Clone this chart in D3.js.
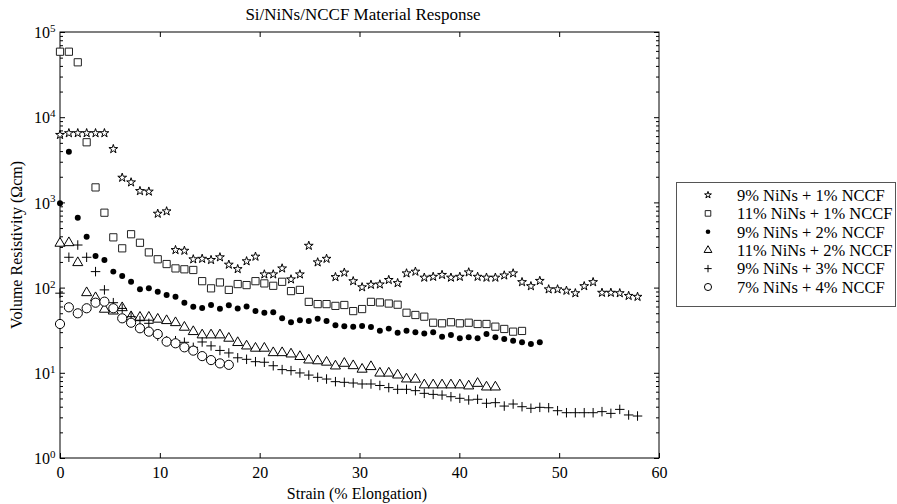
<!DOCTYPE html>
<html>
<head>
<meta charset="utf-8">
<script src="https://cdn.jsdelivr.net/npm/d3@7"></script>
<style>
  html, body { margin: 0; padding: 0; background: #fff; }
  svg { display: block; font-family: "Liberation Serif", "Times New Roman", serif; }
</style>
</head>
<body>
<svg id="chart" width="897" height="504"></svg>
<script>
// Strain sampling points (% elongation) shared by all specimens
const strain = [0, 0.89, 1.78, 2.67, 3.56, 4.45, 5.34, 6.23, 7.12, 8.01, 8.90, 9.79, 10.68, 11.57,
  12.46, 13.35, 14.24, 15.13, 16.02, 16.91, 17.80, 18.69, 19.58, 20.47, 21.36, 22.25, 23.14,
  24.03, 24.92, 25.81, 26.70, 27.59, 28.48, 29.37, 30.26, 31.15, 32.04, 32.93, 33.82, 34.71,
  35.60, 36.49, 37.38, 38.27, 39.16, 40.05, 40.94, 41.83, 42.72, 43.61, 44.50, 45.39, 46.28,
  47.17, 48.06, 48.95, 49.84, 50.73, 51.62, 52.51, 53.40, 54.29, 55.18, 56.07, 56.96, 57.85];

// Volume resistivity (Ohm·cm) for each composition
const ni9cf1 = [6200, 6500, 6500, 6500, 6500, 6500, 4230, 1950, 1720, 1360, 1340, 737, 786, 276,
  271, 215, 218, 211, 227, 186, 165, 204, 231, 143, 143, 168, 125, 143, 310, 198, 218, 133, 150,
  119, 101, 108, 109, 123, 113, 147, 154, 131, 134, 141, 131, 134, 151, 134, 131, 131, 139, 147,
  116, 104, 120, 95.5, 95.5, 92, 86, 104, 116, 87, 87, 86, 80, 78];
const ni11cf1 = [58700, 58700, 44100, 5080, 1500, 757, 389, 289, 423, 336, 259, 215, 189, 168,
  164, 161, 119, 98, 115, 94, 110, 107, 119, 112, 105, 117, 91, 94, 68, 64, 64, 61, 62.5, 53, 56,
  68, 67, 65, 63, 50.7, 47.7, 45.6, 38.7, 38.1, 39.2, 38.1, 38.7, 37.4, 37.4, 34.8, 32.7, 30.4, 31];
const ni9cf2 = [976, 3940, 661, 396, 235, 211, 154, 137, 117, 95.5, 98, 89.6, 82, 78, 66.5, 59.7,
  57.5, 62.5, 56.5, 62, 57, 60, 53, 50.7, 51.3, 43.6, 39.2, 41.3, 40.6, 43.1, 40.6, 36.1, 35.1,
  34.8, 35.4, 34.5, 31.2, 33, 29.5, 31.2, 29.9, 29, 29.9, 26.5, 27.8, 25.4, 26.1, 25.4, 28.5,
  26.1, 24.9, 23.8, 22.8, 21.8, 22.8];
const ni11cf2 = [331, 336, 196, 87, 76, 55.6, 53, 58, 45.5, 44.8, 44.8, 42.5, 40.9, 38.7, 34.2,
  30.4, 27.8, 27.8, 27.8, 25.4, 22.6, 20.6, 19.4, 19.4, 17.2, 17.2, 16.6, 15.5, 14.1, 13.8, 13.3,
  12, 12.9, 12.1, 11, 11.8, 9.9, 9.9, 9.4, 8.45, 8.4, 7.2, 7.2, 7.2, 7.2, 7.2, 7.0, 7.5, 6.8, 6.8];
const ni9cf3 = [86, 227, 316, 227, 154, 94, 66.5, 57, 45.6, 40.9, 38.1, 27, 23.8, 23.8, 22.8,
  19.9, 23, 20.7, 18.3, 17.1, 15, 14.4, 13.5, 13.3, 12.1, 10.9, 10.6, 9.96, 9.4, 8.85, 8.45,
  7.87, 7.73, 7.59, 7.39, 7.39, 7.1, 6.7, 6.4, 6.4, 6.17, 5.74, 5.58, 5.48, 5.24, 5.02, 4.8,
  4.89, 4.39, 4.46, 4.07, 4.3, 4.0, 3.83, 3.93, 3.89, 3.59, 3.4, 3.4, 3.4, 3.4, 3.5, 3.34, 3.72,
  3.2, 3.11];
const ni7cf4 = [37.4, 58.7, 49.9, 57.2, 66.5, 68.4, 57.2, 43.6, 38.7, 33.3, 30.4, 28.5, 23.2,
  22.2, 19.9, 18.2, 15.7, 14.1, 12.9, 12.4];

const seriesNames = ["9% NiNs + 1% NCCF", "11% NiNs + 1% NCCF", "9% NiNs + 2% NCCF",
  "11% NiNs + 2% NCCF", "9% NiNs + 3% NCCF", "7% NiNs + 4% NCCF"];
const seriesValues = [ni9cf1, ni11cf1, ni9cf2, ni11cf2, ni9cf3, ni7cf4];

const xTicks = [0, 10, 20, 30, 40, 50, 60];
const yExponents = [0, 1, 2, 3, 4, 5];

// Plus marker drawn as two thin strokes
const symbolPlus = {
  draw(context, size) {
    const r = Math.sqrt(size) / 2;
    context.moveTo(-r, 0); context.lineTo(r, 0);
    context.moveTo(0, -r); context.lineTo(0, r);
  }
};

const markers = [
  { type: d3.symbolStar, size: 24, fill: "#fff", stroke: "#000" },
  { type: d3.symbolSquare, size: 52, fill: "#fff", stroke: "#222" },
  { type: d3.symbolCircle, size: 28, fill: "#000", stroke: "none" },
  { type: d3.symbolTriangle, size: 44, fill: "#fff", stroke: "#000" },
  { type: symbolPlus, size: 90, fill: "none", stroke: "#000" },
  { type: d3.symbolCircle, size: 66, fill: "#fff", stroke: "#000" }
];

const svg = d3.select("#chart");
const plot = { left: 60, right: 659, top: 32, bottom: 458 };

const x = d3.scaleLinear().domain([0, 60]).range([plot.left, plot.right]);
const y = d3.scaleLog().domain([1, 1e5]).range([plot.bottom, plot.top]);

const minorVals = [];
for (let e = 0; e < 5; e++) for (let m = 2; m <= 9; m++) minorVals.push(m * Math.pow(10, e));
const majorVals = yExponents.map(e => Math.pow(10, e));

// Frame axes
const gx = svg.append("g").attr("transform", `translate(0,${plot.bottom})`)
  .call(d3.axisBottom(x).tickValues(xTicks).tickSizeInner(-5).tickSizeOuter(0).tickPadding(9)
    .tickFormat(d3.format("d")));
const gxTop = svg.append("g").attr("transform", `translate(0,${plot.top})`)
  .call(d3.axisTop(x).tickValues(xTicks.slice(1, -1)).tickSizeInner(-5).tickSizeOuter(0)
    .tickFormat(""));
const gyMinor = svg.append("g").attr("transform", `translate(${plot.left},0)`)
  .call(d3.axisLeft(y).tickValues(minorVals).tickSizeInner(-3).tickSizeOuter(0).tickFormat(""));
const gy = svg.append("g").attr("transform", `translate(${plot.left},0)`)
  .call(d3.axisLeft(y).tickValues(majorVals).tickSizeInner(-5).tickSizeOuter(0).tickPadding(10)
    .tickFormat(""));
const gyRMinor = svg.append("g").attr("transform", `translate(${plot.right},0)`)
  .call(d3.axisRight(y).tickValues(minorVals).tickSizeInner(-3).tickSizeOuter(0).tickFormat(""));
const gyR = svg.append("g").attr("transform", `translate(${plot.right},0)`)
  .call(d3.axisRight(y).tickValues(majorVals).tickSizeInner(-5).tickSizeOuter(0).tickFormat(""));

[gx, gxTop, gyMinor, gy, gyRMinor, gyR].forEach(g => {
  g.select(".domain").remove();
  g.selectAll("line").attr("stroke", "#000").attr("stroke-width", 1);
});
gx.selectAll("text").attr("font-family", "Liberation Serif").attr("font-size", 16)
  .attr("fill", "#000");

// Power-of-ten labels on the y axis
gy.selectAll(".tick").each(function(d) {
  const t = d3.select(this).append("text")
    .attr("x", -26).attr("dy", "0.35em").attr("text-anchor", "start")
    .attr("font-family", "Liberation Serif").attr("font-size", 16).attr("fill", "#000");
  t.append("tspan").text("10");
  t.append("tspan").attr("dy", "-0.55em").attr("font-size", 11).text(Math.round(Math.log10(d)));
});

// Plot border
svg.append("rect")
  .attr("x", plot.left).attr("y", plot.top)
  .attr("width", plot.right - plot.left).attr("height", plot.bottom - plot.top)
  .attr("fill", "none").attr("stroke", "#000").attr("stroke-width", 1);

// Data markers
seriesValues.forEach((vals, si) => {
  const m = markers[si];
  const sym = d3.symbol().type(m.type).size(m.size);
  svg.append("g").selectAll("path")
    .data(vals.map((v, i) => [strain[i], v]))
    .join("path")
    .attr("transform", d => `translate(${x(d[0])},${y(d[1])})`)
    .attr("d", sym)
    .attr("fill", m.fill)
    .attr("stroke", m.stroke)
    .attr("stroke-width", 1);
});

// Title and axis titles
svg.append("text").attr("x", 363).attr("y", 20).attr("text-anchor", "middle")
  .attr("font-size", 17).text("Si/NiNs/NCCF Material Response");
svg.append("text").attr("x", 357).attr("y", 499).attr("text-anchor", "middle")
  .attr("font-size", 16).text("Strain (% Elongation)");
svg.append("text").attr("transform", "translate(22,245) rotate(-90)").attr("text-anchor", "middle")
  .attr("font-size", 16).text("Volume Resistivity (\u03A9cm)");

// Legend
const legend = svg.append("g");
legend.append("rect").attr("x", 676.5).attr("y", 182.5).attr("width", 219).attr("height", 124)
  .attr("fill", "#fff").attr("stroke", "#555").attr("stroke-width", 1);
seriesNames.forEach((name, i) => {
  const ly = 195 + i * 18.4;
  const m = markers[i];
  legend.append("path")
    .attr("transform", `translate(708,${ly})`)
    .attr("d", d3.symbol().type(m.type).size(m.size * 0.6)())
    .attr("fill", m.fill).attr("stroke", m.stroke).attr("stroke-width", 1);
  legend.append("text").attr("x", 737).attr("y", ly).attr("dy", "0.35em")
    .attr("font-size", 16.5).text(name);
});
</script>
</body>
</html>
